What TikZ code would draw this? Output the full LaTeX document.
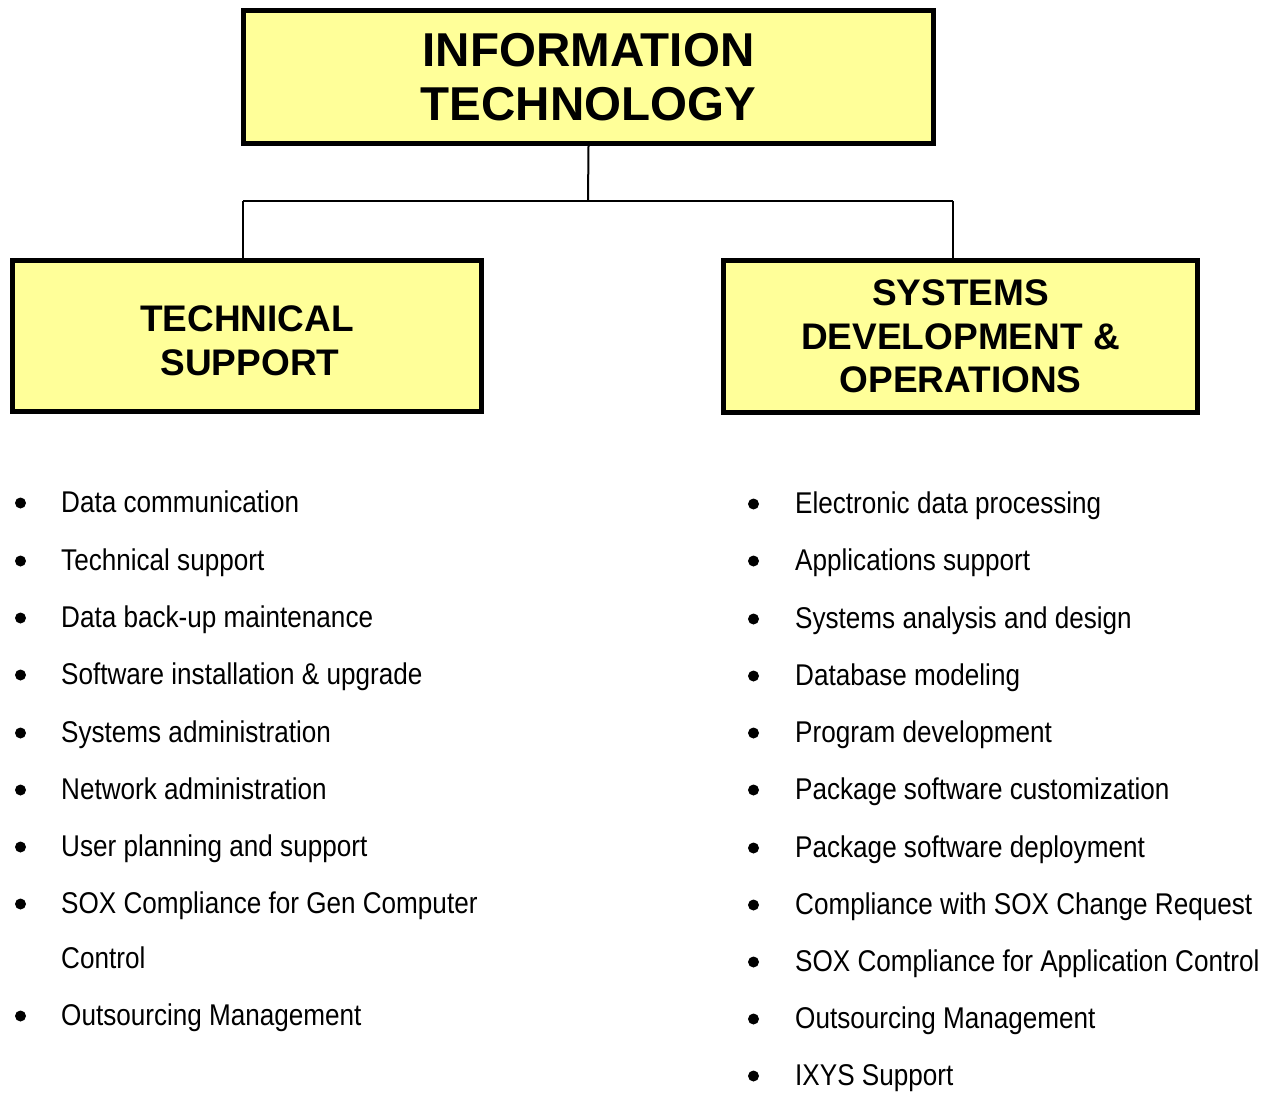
\documentclass[tikz,border=0pt]{standalone}
\usepackage{fontspec}
\setmainfont{Liberation Sans}
\newfontfamily\narrowfont[FakeStretch=0.87]{Liberation Sans}
\definecolor{boxfill}{RGB}{255,255,153}

\begin{document}
\begin{tikzpicture}[x=1pt,y=-1pt,
    unitbox/.style={draw, line width=5pt, fill=boxfill, align=center, inner sep=0pt},
    conn/.style={line width=2pt},
    item/.style={anchor=base west, inner sep=0pt, font=\narrowfont\fontsize{30}{36}\selectfont},
    bullet/.style={circle, fill, inner sep=0pt, minimum size=11pt}]
      \useasboundingbox (0,0) rectangle (1263,1094);

      % boxes
      \node[unitbox, minimum width=690pt, minimum height=133pt,
            font=\bfseries\fontsize{47.5}{54}\selectfont] (it) at (588.5,77) {INFORMATION\\TECHNOLOGY};
      \node[unitbox, minimum width=469pt, minimum height=151pt,
            font=\bfseries\fontsize{37}{43.5}\selectfont] (ts) at (247,336) {\rule{0pt}{35pt}TECHNICAL\\\hspace*{6pt}SUPPORT};
      \node[unitbox, minimum width=474pt, minimum height=152pt,
            font=\bfseries\fontsize{37}{43.5}\selectfont] (sd) at (960.5,336.5) {SYSTEMS\\DEVELOPMENT \&\\OPERATIONS};

      % connectors
      \coordinate (split) at (588,201);
      \coordinate (lj) at (243,201);
      \coordinate (rj) at (953,201);
      \draw[conn] (it.south) -- (split);
      \draw[conn] (lj) -- (rj);
      \draw[conn] (lj) -- (lj |- ts.north);
      \draw[conn] (rj) -- (rj |- sd.north);

      % technical support duties
      \foreach \yy/\txt [count=\i] in {512/Data communication, 570/Technical support,
            627/Data back-up maintenance, 684/Software installation \& upgrade,
            742/Systems administration, 799/Network administration,
            856/User planning and support, 913/SOX Compliance for Gen Computer,
            1025/Outsourcing Management}{
                \node[bullet] (tsb\i) at (20.5,\yy-9) {};
                \node[item] (tsi\i) at (61,\yy) {\txt};
            }
      \node[item] (tsc) at (61,968) {Control};

      % systems development duties
      \foreach \yy/\txt [count=\i] in {513/Electronic data processing, 570/Applications support,
            628/Systems analysis and design, 685/Database modeling,
            742/Program development, 799/Package software customization,
            857/Package software deployment, 914/Compliance with SOX Change Request,
            971/SOX Compliance for Application Control, 1028/Outsourcing Management,
            1085/IXYS Support}{
                \node[bullet] (sdb\i) at (753.5,\yy-9) {};
                \node[item] (sdi\i) at (795,\yy) {\txt};
            }
\end{tikzpicture}
\end{document}
